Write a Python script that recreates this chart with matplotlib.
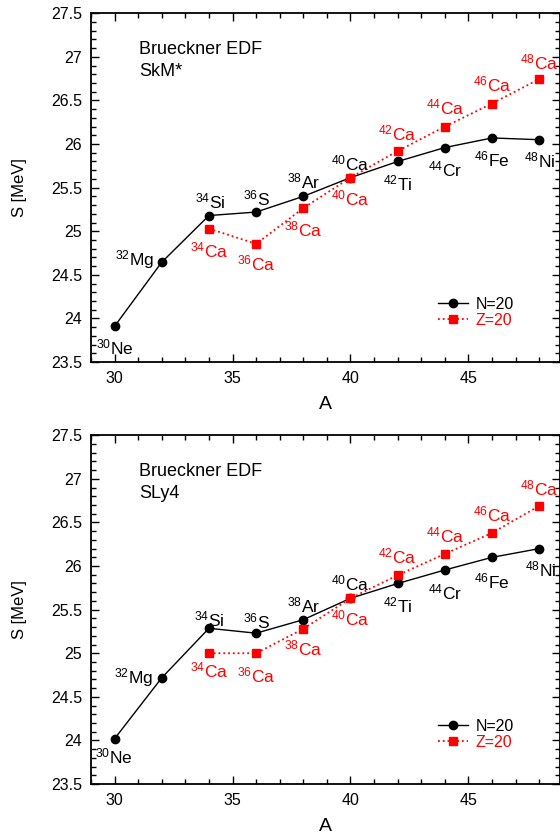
import matplotlib
matplotlib.use('Agg')
import matplotlib.pyplot as plt
from matplotlib.ticker import MultipleLocator, FormatStrFormatter

plt.rcParams['font.family'] = ['Liberation Sans', 'DejaVu Sans']
plt.rcParams['mathtext.fontset'] = 'custom'
plt.rcParams['mathtext.rm'] = 'Liberation Sans'
plt.rcParams['mathtext.it'] = 'Liberation Sans:italic'
plt.rcParams['mathtext.bf'] = 'Liberation Sans:bold'

# N=20 isotones
A_n20 = [30, 32, 34, 36, 38, 40, 42, 44, 46, 48]
el_n20 = ['Ne', 'Mg', 'Si', 'S', 'Ar', 'Ca', 'Ti', 'Cr', 'Fe', 'Ni']
# Z=20 isotopes
A_z20 = [34, 36, 38, 40, 42, 44, 46, 48]
el_z20 = ['Ca'] * 8

# symmetry energy S [MeV]
S_n20_skm = [23.91, 24.645, 25.18, 25.22, 25.40, 25.615, 25.80, 25.96, 26.07, 26.05]
S_z20_skm = [25.03, 24.855, 25.265, 25.615, 25.92, 26.20, 26.465, 26.745]
S_n20_sly4 = [24.02, 24.718, 25.286, 25.23, 25.385, 25.63, 25.80, 25.955, 26.10, 26.20]
S_z20_sly4 = [25.0, 25.0, 25.28, 25.63, 25.895, 26.14, 26.38, 26.69]

# label offsets (pixels, dy > 0 means below)
off_n_top = [(0, 21), (-8, -3), (1, -14), (0, -14), (0, -15), (0, -14), (0, 22), (0, 22), (0, 21), (0, 21)]
off_z_top = [(0, 22), (0, 20), (0, 21), (0, 21), (0, -18), (0, -19), (0, -19), (0, -17)]
off_n_bot = [(-1, 18), (-9, 0), (0, -9), (0, -12), (0, -14), (0, -15), (0, 22), (0, 22), (0, 24), (1, 21)]
off_z_bot = [(0, 17), (0, 22), (0, 20), (0, 20), (0, -19), (0, -18), (0, -18), (0, -17)]

RED = '#ff0000'
W, H = 560, 836


def label_points(ax, A, el, S, offs, color):
    for a, e, s, (dx, dy) in zip(A, el, S, offs):
        ha = 'right' if e == 'Mg' else 'center'
        ax.annotate(r'$^{%d}$%s' % (a, e), (a, s), xytext=(dx * 0.72, -dy * 0.72),
                    textcoords='offset points', ha=ha, va='center',
                    fontsize=12.5, color=color)


def panel(ax, S_n, S_z, offs_n, offs_z, model):
    ax.plot(A_n20, S_n, '-', color='black', lw=1.0, marker='o', ms=6, label='N=20')
    ax.plot(A_z20, S_z, ':', color=RED, lw=1.3, marker='s', ms=5.5, label='Z=20')
    label_points(ax, A_n20, el_n20, S_n, offs_n, 'black')
    label_points(ax, A_z20, el_z20, S_z, offs_z, RED)

    ax.set_xlim(29, 48.86)
    ax.set_ylim(23.5, 27.5)
    ax.xaxis.set_major_locator(MultipleLocator(5))
    ax.xaxis.set_minor_locator(MultipleLocator(1))
    ax.yaxis.set_major_locator(MultipleLocator(0.5))
    ax.yaxis.set_minor_locator(MultipleLocator(0.1))
    ax.yaxis.set_major_formatter(FormatStrFormatter('%g'))
    ax.tick_params(which='both', direction='in', top=True, right=True, width=1.0)
    ax.tick_params(which='major', length=6, labelsize=11.5, pad=6.5)
    ax.tick_params(which='minor', length=3.5)
    for sp in ax.spines.values():
        sp.set_linewidth(1.3)

    ax.set_xlabel('A', fontsize=14, labelpad=7)
    ax.set_ylabel('S [MeV]', fontsize=12)
    ax.yaxis.set_label_coords(-0.137, 0.5)

    ax.text(0.1025, 0.895, 'Brueckner EDF', transform=ax.transAxes, fontsize=13, va='center')
    ax.text(0.1025, 0.832, model, transform=ax.transAxes, fontsize=13, va='center')

    ax.legend(loc='center left', bbox_to_anchor=(0.7396, 0.142), frameon=False,
              fontsize=11.5, borderpad=0, borderaxespad=0, handlelength=1.9,
              handletextpad=0.5, labelspacing=0.05, labelcolor='linecolor')


fig = plt.figure(figsize=(W / 100, H / 100), dpi=100)
ax1 = fig.add_axes([91 / W, 1 - 362 / H, 468.5 / W, 348.7 / H])
ax2 = fig.add_axes([91 / W, 1 - 784 / H, 468.5 / W, 348.7 / H])

panel(ax1, S_n20_skm, S_z20_skm, off_n_top, off_z_top, 'SkM*')
panel(ax2, S_n20_sly4, S_z20_sly4, off_n_bot, off_z_bot, 'SLy4')

fig.savefig('out.png', dpi=100)
